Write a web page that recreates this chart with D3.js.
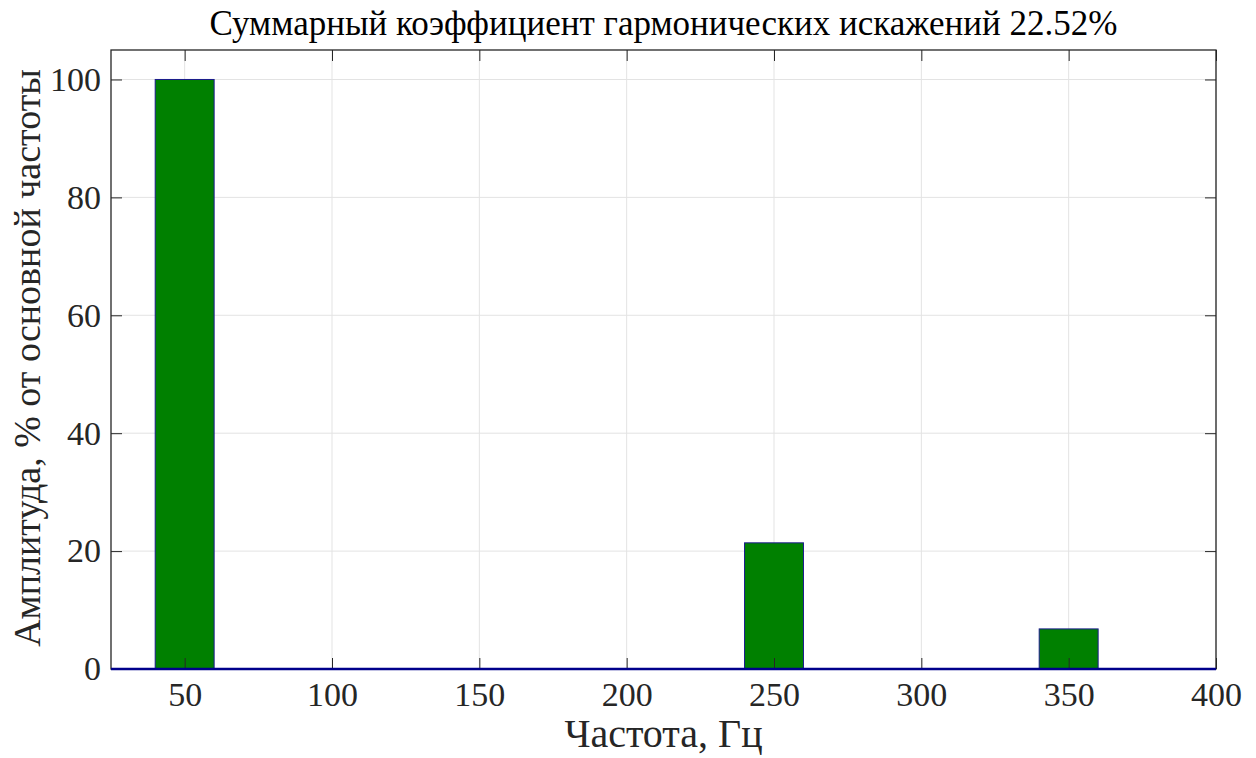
<!DOCTYPE html>
<html>
<head>
<meta charset="utf-8">
<script src="https://cdn.jsdelivr.net/npm/d3@7"></script>
<style>
  body { margin: 0; background: #fff; }
  svg text { font-family: "Liberation Serif", "Times New Roman", serif; fill: #262626; }
</style>
</head>
<body>
<script>
// harmonic frequencies (Hz) and amplitudes (% of fundamental)
var freqs = [50, 100, 150, 200, 250, 300, 350, 400];
var amps = [100, 0, 0, 0, 21.4, 0, 6.8, 0];
var xTicks = [50, 100, 150, 200, 250, 300, 350, 400];
var yTicks = [0, 20, 40, 60, 80, 100];
var titleText = "Суммарный коэффициент гармонических искажений 22.52%";
var xLabel = "Частота, Гц";
var yLabel = "Амплитуда,  % от основной частоты";

var margin = {top: 50, right: 40, bottom: 89, left: 111},
    width = 1256 - margin.left - margin.right,
    height = 758 - margin.top - margin.bottom;

var svg = d3.select("body").append("svg")
    .attr("width", 1256)
    .attr("height", 758)
  .append("g")
    .attr("transform", "translate(" + margin.left + "," + margin.top + ")");

var x = d3.scaleLinear().domain([25, 400]).range([0, width]);
var y = d3.scaleLinear().domain([0, 105]).range([height, 0]);
var barW = 20; // Hz

var data = freqs.map(function(f, i) { return {f: f, v: amps[i]}; });

// grid
svg.append("g").selectAll("line")
    .data(xTicks).enter().append("line")
    .attr("x1", function(d) { return x(d); }).attr("x2", function(d) { return x(d); })
    .attr("y1", 0).attr("y2", height)
    .attr("stroke", "#e3e3e3").attr("stroke-width", 1);
svg.append("g").selectAll("line")
    .data(yTicks).enter().append("line")
    .attr("x1", 0).attr("x2", width)
    .attr("y1", function(d) { return y(d); }).attr("y2", function(d) { return y(d); })
    .attr("stroke", "#e3e3e3").attr("stroke-width", 1);

// clip so a bar at 400 stays inside
svg.append("clipPath").attr("id", "clip")
  .append("rect").attr("width", width).attr("height", height + 2).attr("y", -1);

var bars = svg.append("g").attr("clip-path", "url(#clip)");
bars.selectAll("rect")
    .data(data.filter(function(d) { return d.v > 0; }))
    .enter().append("rect")
    .attr("x", function(d) { return x(d.f - barW / 2); })
    .attr("width", function(d) { return x(d.f + barW / 2) - x(d.f - barW / 2); })
    .attr("y", function(d) { return y(d.v); })
    .attr("height", function(d) { return y(0) - y(d.v); })
    .attr("fill", "#008000")
    .attr("stroke", "#1a1a8c")
    .attr("stroke-width", 1);

// axes box + inward ticks
var tickLen = 11;
svg.append("g").attr("transform", "translate(0," + height + ")")
    .call(d3.axisBottom(x).tickValues(xTicks).tickSizeInner(-tickLen).tickSizeOuter(0).tickPadding(13))
    .call(function(g) {
      g.select(".domain").remove();
      g.selectAll("line").attr("stroke", "#262626");
      g.selectAll("text").style("font-size", "34px").attr("fill", "#262626");
    });
svg.append("g")
    .call(d3.axisTop(x).tickValues(xTicks).tickSizeInner(-tickLen).tickSizeOuter(0).tickFormat(""))
    .call(function(g) { g.select(".domain").remove(); g.selectAll("line").attr("stroke", "#262626"); });
svg.append("g")
    .call(d3.axisLeft(y).tickValues(yTicks).tickSizeInner(-tickLen).tickSizeOuter(0).tickPadding(10))
    .call(function(g) {
      g.select(".domain").remove();
      g.selectAll("line").attr("stroke", "#262626");
      g.selectAll("text").style("font-size", "34px").attr("fill", "#262626");
    });
svg.append("g").attr("transform", "translate(" + width + ",0)")
    .call(d3.axisRight(y).tickValues(yTicks).tickSizeInner(-tickLen).tickSizeOuter(0).tickFormat(""))
    .call(function(g) { g.select(".domain").remove(); g.selectAll("line").attr("stroke", "#262626"); });

svg.append("rect")
    .attr("width", width).attr("height", height)
    .attr("fill", "none").attr("stroke", "#262626").attr("stroke-width", 1.3);

// baseline
svg.append("line")
    .attr("x1", 0).attr("x2", width)
    .attr("y1", y(0)).attr("y2", y(0))
    .attr("stroke", "#00008b").attr("stroke-width", 2.5);

// labels
svg.append("text")
    .attr("x", width / 2).attr("y", -15)
    .attr("text-anchor", "middle")
    .style("font-size", "35px")
    .style("fill", "#000")
    .text(titleText);

svg.append("text")
    .attr("x", width / 2).attr("y", height + 78)
    .attr("text-anchor", "middle")
    .style("font-size", "40px")
    .text(xLabel);

svg.append("text")
    .attr("transform", "rotate(-90)")
    .attr("x", -308).attr("y", -71)
    .attr("text-anchor", "middle")
    .style("font-size", "38px")
    .text(yLabel);
</script>
</body>
</html>
